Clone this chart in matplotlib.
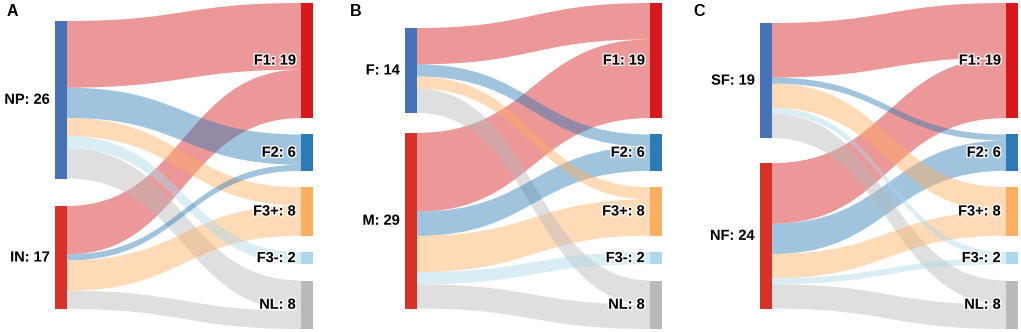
import matplotlib
matplotlib.use("Agg")
import matplotlib.pyplot as plt
from matplotlib.path import Path
from matplotlib.patches import PathPatch, Rectangle
import matplotlib.patheffects as pe

# ---------------- data ----------------
targets = ["F1", "F2", "F3+", "F3-", "NL"]
target_colors = ["#d7191c", "#2c7bb6", "#fdae61", "#abd9e9", "#bababa"]

panel_letters = ["A", "B", "C"]
source_names_A = ["NP", "IN"]
source_names_B = ["F", "M"]
source_names_C = ["SF", "NF"]
source_colors = ["#4573b5", "#d7312a"]

# flows source -> each target (F1, F2, F3+, F3-, NL)
flows_A_NP = [11, 5, 3, 2, 5]
flows_A_IN = [8, 1, 5, 0, 3]
flows_B_F = [6, 2, 2, 0, 4]
flows_B_M = [13, 4, 6, 2, 4]
flows_C_SF = [9, 1, 4, 1, 4]
flows_C_NF = [10, 5, 4, 1, 4]

panels = [
    (panel_letters[0], source_names_A, [flows_A_NP, flows_A_IN]),
    (panel_letters[1], source_names_B, [flows_B_F, flows_B_M]),
    (panel_letters[2], source_names_C, [flows_C_SF, flows_C_NF]),
]

# ---------------- layout (pixels) ----------------
W, H = 1021, 332
scale = 6.06          # px per unit
node_w = 12
right_top = 3.0
right_gap = 16.35
left_x = [55, 405, 760]
right_x = [301, 650, 1006]
left_top = [21, 28, 23]
left_gap = [27.4, 20.0, 25.0]
letter_x = [7, 350, 693]
alpha_link = 0.45

fig = plt.figure(figsize=(W / 100, H / 100), dpi=100)
ax = fig.add_axes([0, 0, 1, 1])
ax.set_xlim(0, W)
ax.set_ylim(H, 0)
ax.axis("off")

halo = [pe.withStroke(linewidth=2.2, foreground="white", alpha=0.8)]
font = dict(family=["Liberation Sans", "DejaVu Sans"], fontsize=10.5, fontweight="bold")


def band(x0, x1, sy0, sy1, ty0, ty1, color, z):
    xm = (x0 + x1) / 2
    verts = [
        (x0, sy0), (xm, sy0), (xm, ty0), (x1, ty0),
        (x1, ty1),
        (xm, ty1), (xm, sy1), (x0, sy1),
        (x0, sy0),
    ]
    codes = [Path.MOVETO, Path.CURVE4, Path.CURVE4, Path.CURVE4,
             Path.LINETO,
             Path.CURVE4, Path.CURVE4, Path.CURVE4,
             Path.CLOSEPOLY]
    ax.add_patch(PathPatch(Path(verts, codes), facecolor=color,
                           edgecolor="none", alpha=alpha_link, zorder=z))


for p, (letter, snames, flows) in enumerate(panels):
    lx, rx = left_x[p], right_x[p]
    ttot = [sum(f[j] for f in flows) for j in range(len(targets))]
    rtops = []
    y = right_top
    for t in ttot:
        rtops.append(y)
        y += t * scale + right_gap
    ltops = []
    y = left_top[p]
    for f in flows:
        ltops.append(y)
        y += sum(f) * scale + left_gap[p]

    # compute link geometry
    links = []
    tcursor = list(rtops)
    for i, f in enumerate(flows):
        scur = ltops[i]
        for j, v in enumerate(f):
            if v <= 0:
                continue
            h = v * scale
            links.append((v, scur, scur + h, tcursor[j], tcursor[j] + h, target_colors[j]))
            scur += h
            tcursor[j] += h
    # wider links drawn first, thinner on top
    links.sort(key=lambda L: -L[0])
    for k, (v, sy0, sy1, ty0, ty1, col) in enumerate(links):
        band(lx + node_w, rx, sy0, sy1, ty0, ty1, col, 1 + k * 0.01)

    for i, f in enumerate(flows):
        h = sum(f) * scale
        ax.add_patch(Rectangle((lx, ltops[i]), node_w, h,
                               facecolor=source_colors[i], edgecolor="none", zorder=3))
        ax.text(lx - 5, ltops[i] + h / 2, f"{snames[i]}: {sum(f)}", ha="right",
                va="center", color="black", zorder=4, path_effects=halo, **font)

    for j, t in enumerate(ttot):
        h = t * scale
        ax.add_patch(Rectangle((rx, rtops[j]), node_w, h,
                               facecolor=target_colors[j], edgecolor="none", zorder=3))
        ax.text(rx - 5, rtops[j] + h / 2, f"{targets[j]}: {t}", ha="right",
                va="center", color="black", zorder=4, path_effects=halo, **font)

    ax.text(letter_x[p], 12, letter, ha="left", va="center", color="black",
            family=["Liberation Sans", "DejaVu Sans"], fontsize=11.5, fontweight="bold")

fig.savefig("out.png", dpi=100)
